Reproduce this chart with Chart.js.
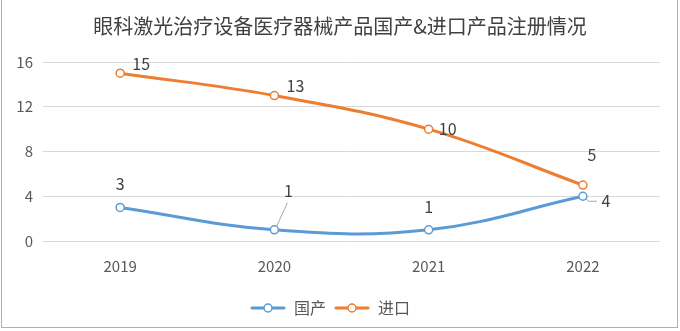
<!DOCTYPE html>
<html>
<head>
<meta charset="utf-8">
<script src="https://cdn.jsdelivr.net/npm/chart.js@4.4.0/dist/chart.umd.min.js"></script>
<style>
  body { margin: 0; background: #fff; }
  #wrap { position: relative; width: 680px; height: 331px; overflow: hidden; }
  #frame { position: absolute; left: 1px; top: -2px; width: 675px; height: 328px; border: 1px solid #8eb4e3; pointer-events: none; }
</style>
</head>
<body>
<div id="wrap">
  <canvas id="myChart" width="680" height="331"></canvas>
  <div id="frame"></div>
</div>
<script>
const title = "眼科激光治疗设备医疗器械产品国产&进口产品注册情况";
const years = ["2019", "2020", "2021", "2022"];
const domestic = [3, 1, 1, 4];
const imported = [15, 13, 10, 5];
const seriesNames = ["国产", "进口"];

const FONT = "'Noto Sans CJK SC', 'Noto Sans', sans-serif";
const colors = ["#5b9bd5", "#ed7d31"];

// where each value label sits relative to its point
const labelOffsets = [
  [[0, -24], [14, -39], [0, -23], [23, 5]],
  [[21, -9], [21, -10], [19, 0], [9, -30]],
];

// little "line + circle" icon for the legend
function legendIcon(color) {
  const c = document.createElement("canvas");
  c.width = 36;
  c.height = 12;
  const g = c.getContext("2d");
  g.strokeStyle = color;
  g.lineWidth = 3;
  g.lineCap = "round";
  g.beginPath();
  g.moveTo(2, 6);
  g.lineTo(34, 6);
  g.stroke();
  g.beginPath();
  g.arc(18, 6, 4, 0, Math.PI * 2);
  g.fillStyle = "#fff";
  g.fill();
  g.lineWidth = 1.5;
  g.stroke();
  return c;
}

const titlePlugin = {
  id: "titleText",
  afterDraw(chart) {
    const ctx = chart.ctx;
    ctx.save();
    ctx.font = "20px " + FONT;
    ctx.fillStyle = "#404040";
    ctx.textAlign = "center";
    ctx.textBaseline = "middle";
    ctx.fillText(title, 340, 26);
    ctx.restore();
  },
};

const valueLabels = {
  id: "valueLabels",
  afterDatasetsDraw(chart) {
    const ctx = chart.ctx;
    ctx.save();
    ctx.font = "16px " + FONT;
    ctx.fillStyle = "#404040";
    ctx.textAlign = "center";
    ctx.textBaseline = "middle";
    chart.data.datasets.forEach((ds, di) => {
      const meta = chart.getDatasetMeta(di);
      meta.data.forEach((pt, i) => {
        const off = labelOffsets[di][i];
        ctx.fillText(ds.data[i], pt.x + off[0], pt.y + off[1]);
      });
    });

    // leader lines for the two labels that sit away from their points
    const d = chart.getDatasetMeta(0).data;
    ctx.strokeStyle = "#a6a6a6";
    ctx.lineWidth = 1;
    ctx.beginPath();
    ctx.moveTo(d[1].x + 2, d[1].y - 3);
    ctx.lineTo(d[1].x + 13, d[1].y - 27);
    ctx.moveTo(d[3].x + 2, d[3].y + 2);
    ctx.lineTo(d[3].x + 6, d[3].y + 5);
    ctx.lineTo(d[3].x + 14, d[3].y + 5);
    ctx.stroke();
    ctx.restore();
  },
};

const ctx = document.getElementById("myChart").getContext("2d");

new Chart(ctx, {
  type: "line",
  data: {
    labels: years,
    datasets: [domestic, imported].map((vals, i) => ({
      label: seriesNames[i],
      data: vals,
      borderColor: colors[i],
      backgroundColor: "#fff",
      borderWidth: 3,
      tension: 0.4,
      pointRadius: 4,
      pointBorderWidth: 1.5,
      pointBackgroundColor: "#fff",
      pointBorderColor: colors[i],
    })),
  },
  options: {
    responsive: false,
    animation: false,
    layout: { padding: { top: 62, right: 20, left: 0, bottom: 5 } },
    plugins: {
      legend: {
        position: "bottom",
        labels: {
          usePointStyle: true,
          pointStyleWidth: 36,
          boxHeight: 12,
          padding: 8,
          color: "#595959",
          font: { size: 16, family: FONT },
          generateLabels(chart) {
            return chart.data.datasets.map((ds, i) => ({
              text: ds.label,
              pointStyle: legendIcon(colors[i]),
              fontColor: "#595959",
              datasetIndex: i,
              hidden: false,
              lineWidth: 0,
            }));
          },
        },
      },
      tooltip: { enabled: false },
    },
    scales: {
      x: {
        offset: true,
        grid: { display: false },
        border: { display: false },
        afterFit(scale) {
          scale.height += 9;
        },
        ticks: { color: "#595959", font: { size: 15, family: FONT }, padding: 8 },
      },
      y: {
        min: 0,
        max: 16,
        afterFit(scale) {
          scale.width = 43;
        },
        ticks: { stepSize: 4, color: "#595959", font: { size: 15, family: FONT }, padding: 10 },
        grid: { color: "#d9d9d9", drawTicks: false },
        border: { display: false },
      },
    },
  },
  plugins: [titlePlugin, valueLabels],
});
</script>
</body>
</html>
